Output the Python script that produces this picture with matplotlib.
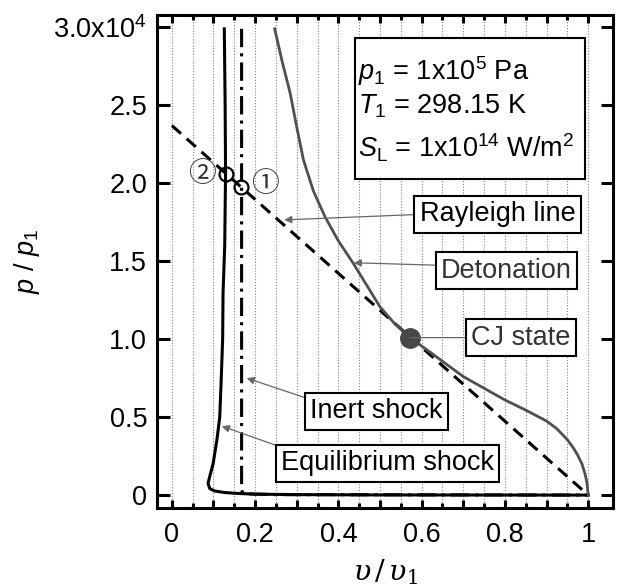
import matplotlib
matplotlib.use("Agg")
import matplotlib.pyplot as plt
from matplotlib.patches import Rectangle

plt.rcParams['font.family'] = ['Liberation Sans', 'DejaVu Sans']
plt.rcParams['mathtext.fontset'] = 'custom'
plt.rcParams['mathtext.rm'] = 'Liberation Sans'
plt.rcParams['mathtext.it'] = 'Liberation Sans:italic'

# pressure ratio p/p1 given in units of 1e4, volume ratio v/v1
eq_v = [0.126, 0.128, 0.129, 0.127, 0.123, 0.122, 0.118, 0.115, 0.108, 0.099, 0.091,
        0.087, 0.091, 0.102, 0.125, 0.155, 0.2, 0.3, 0.5, 0.8, 1.0]
eq_p = [2.99, 2.5, 2.07, 1.6, 1.3, 1.0, 0.7, 0.5, 0.35, 0.2, 0.12,
        0.075, 0.042, 0.027, 0.017, 0.011, 0.006, 0.003, 0.001, 0.0003, 0.0001]

inert_v = [0.1675, 0.1675, 0.1675, 0.169, 0.18, 0.25, 1.0]
inert_p = [2.99, 1.0, 0.05, 0.02, 0.008, 0.003, 0.0001]

det_v = [0.247, 0.265, 0.284, 0.3, 0.316, 0.34, 0.368, 0.4, 0.436, 0.5, 0.535, 0.572,
         0.62, 0.7, 0.8, 0.85, 0.9, 0.925, 0.95, 0.965, 0.975, 0.985, 0.992, 0.997, 1.0]
det_p = [2.99, 2.78, 2.58, 2.36, 2.15, 1.95, 1.784, 1.63, 1.485, 1.207, 1.1, 1.01,
         0.917, 0.76, 0.61, 0.545, 0.475, 0.425, 0.355, 0.30, 0.255, 0.20, 0.14, 0.08, 0.0]

rayleigh_v = [0.0, 1.0]
rayleigh_p = [2.37, 0.0]

cj_v, cj_p = 0.572, 1.01
state_v = [0.166, 0.13]
state_p = [1.975, 2.062]
state_labels = ['①', '②']

info_lines = [r'$p_1$ = 1x10$^5$ Pa', r'$T_1$ = 298.15 K', r'$S_\mathrm{L}$ = 1x10$^{14}$ W/m$^2$']

yticks = [0, 0.5, 1.0, 1.5, 2.0, 2.5, 3.0]
ylabels = ['0', '0.5', '1.0', '1.5', '2.0', '2.5', '3.0x10$^4$']
xticks = [0, 0.1, 0.2, 0.3, 0.4, 0.5, 0.6, 0.7, 0.8, 0.9, 1.0]
xlabels = ['0', '', '0.2', '', '0.4', '', '0.6', '', '0.8', '', '1']
xminor = [0.05, 0.15, 0.25, 0.35, 0.45, 0.55, 0.65, 0.75, 0.85, 0.95]

fs = 19.5
gray = '#505050'

fig = plt.figure(figsize=(6.2, 5.88), dpi=100)
ax = fig.add_axes([0.253, 0.136, 0.736, 0.838])

ax.plot(eq_v, eq_p, color='black', lw=2.2, zorder=3)
ax.plot(inert_v, inert_p, color='black', lw=2.2, dashes=(6, 2, 1, 2), zorder=3)
ax.plot(rayleigh_v, rayleigh_p, color='black', lw=2.2, dashes=(4, 2.5), zorder=3)
ax.plot(det_v, det_p, color=gray, lw=2.0, zorder=3)
ax.plot([cj_v], [cj_p], 'o', color='#484848', ms=14, zorder=5)
ax.plot(state_v, state_p, 'o', mfc='none', mec='black', mew=1.6, ms=10, zorder=5)

cfam = ['Noto Sans CJK JP', 'DejaVu Sans']
ax.text(0.224, 1.998, state_labels[0], fontsize=20, ha='center', va='center',
        family=cfam, color='#333333', zorder=6)
ax.text(0.071, 2.058, state_labels[1], fontsize=20, ha='center', va='center',
        family=cfam, color='#333333', zorder=6)

# parameter box
ax.add_patch(Rectangle((0.44, 2.03), 0.553, 0.90, fc='white', ec='black', lw=1.5, zorder=6))
for yb, s in zip([2.66, 2.449, 2.167], info_lines):
    ax.text(0.447, yb, s, fontsize=fs, ha='left', va='baseline', zorder=7)

box = dict(boxstyle='square,pad=0.2', fc='white', ec='black', lw=1.5)
arr = dict(arrowstyle='-|>', color='0.4', lw=0.9, mutation_scale=11, shrinkA=0, shrinkB=0)

ax.annotate('Rayleigh line', xy=(0.27, 1.765), xytext=(0.782, 1.80), fontsize=fs,
            ha='center', va='center', bbox=box, zorder=7,
            arrowprops=dict(arr, relpos=(0, 0.5)))
ax.annotate('Detonation', xy=(0.437, 1.49), xytext=(0.804, 1.44), fontsize=fs,
            ha='center', va='center', bbox=box, zorder=7, color='#333333',
            arrowprops=dict(arr, relpos=(0, 0.7)))
ax.annotate('CJ state', xy=(cj_v, cj_p), xytext=(0.839, 1.01), fontsize=fs,
            ha='center', va='center', bbox=box, zorder=7, color='#333333',
            arrowprops=dict(arr, arrowstyle='-', relpos=(0, 0.5)))
ax.annotate('Inert shock', xy=(0.18, 0.75), xytext=(0.492, 0.538), fontsize=fs,
            ha='center', va='center', bbox=box, zorder=7,
            arrowprops=dict(arr, relpos=(0, 0.95)))
ax.annotate('Equilibrium shock', xy=(0.12, 0.442), xytext=(0.518, 0.205), fontsize=fs,
            ha='center', va='center', bbox=box, zorder=7,
            arrowprops=dict(arr, relpos=(0.04, 1.0)))

ax.set_xlim(-0.036, 1.06)
ax.set_ylim(-0.083, 3.077)
ax.set_yticks(yticks, labels=ylabels)
ax.set_xticks(xticks, labels=xlabels)
ax.set_xticks(xminor, minor=True)

ax.grid(axis='x', which='both', ls=(0, (1, 1.6)), color='0.5', lw=0.8)
ax.set_axisbelow(True)

ax.tick_params(axis='both', which='both', direction='in', top=True, right=True,
               width=2.2, labelsize=fs)
ax.tick_params(axis='y', which='major', length=9, pad=7)
ax.tick_params(axis='x', which='major', length=6, pad=10)
ax.tick_params(axis='x', which='minor', length=3.5)
for sp in ax.spines.values():
    sp.set_linewidth(2.2)

ax.set_ylabel(r'$p$ / $p_1$', fontsize=fs)
ax.yaxis.set_label_coords(-0.252, 0.5)
ax.set_xlabel(r'$\upsilon\,/\,\upsilon_1$', fontsize=fs + 1, math_fontfamily='dejavuserif')
ax.xaxis.set_label_coords(0.5, -0.1)

fig.savefig('out.png', dpi=100)
